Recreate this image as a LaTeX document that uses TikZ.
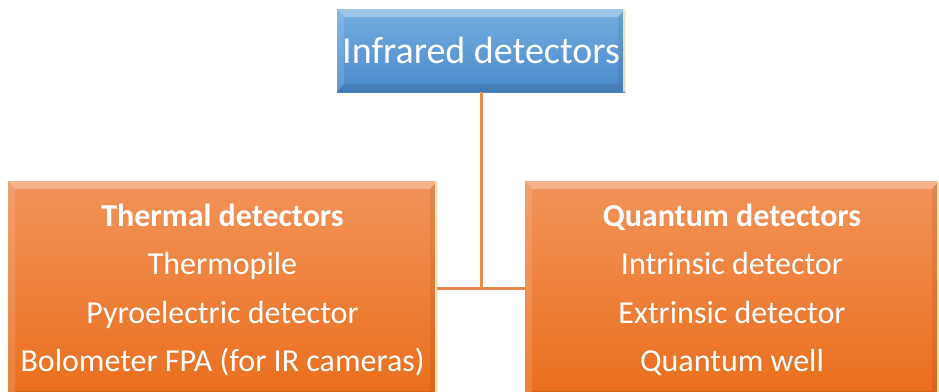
\documentclass[tikz,border=0pt]{standalone}
\usepackage{fontspec}
\setmainfont{Carlito}
\usetikzlibrary{calc}
\definecolor{bluetop}{HTML}{74AEE0}
\definecolor{bluebot}{HTML}{4A8ACB}
\definecolor{orgtop}{HTML}{F2935A}
\definecolor{orgbot}{HTML}{EA6E1C}
\definecolor{linkc}{HTML}{EE8A4E}
\tikzset{
  bevel/.style={path picture={
    \coordinate (bb1) at (path picture bounding box.north west);
    \coordinate (bb2) at (path picture bounding box.south east);
    % top highlight
    \fill[white,opacity=.30] (bb1) -- (bb1-|bb2) -- ([xshift=-7pt,yshift=-8pt]bb1-|bb2) -- ([xshift=7pt,yshift=-8pt]bb1) -- cycle;
    % left highlight
    \fill[white,opacity=.12] (bb1) -- ([xshift=7pt,yshift=-8pt]bb1) -- ([xshift=7pt,yshift=8pt]bb1|-bb2) -- (bb1|-bb2) -- cycle;
    % right shade
    \fill[black,opacity=.07] (bb1-|bb2) -- ([xshift=-7pt,yshift=-8pt]bb1-|bb2) -- ([xshift=-7pt,yshift=8pt]bb2) -- (bb2) -- cycle;
    \draw[white!80!yellow,line width=1.2pt,opacity=.8] ([xshift=-1pt]bb1-|bb2) -- ([xshift=-1pt]bb2);
    % bottom shade
    \fill[black,opacity=.10] (bb1|-bb2) -- ([xshift=7pt,yshift=8pt]bb1|-bb2) -- ([xshift=-7pt,yshift=8pt]bb2) -- (bb2) -- cycle;
  }},
  rootbox/.style={bevel, top color=bluetop, bottom color=bluebot, draw=none,
    text=white, font=\fontsize{38}{40}\selectfont, inner sep=0pt,
    minimum width=288pt, minimum height=83pt},
  groupbox/.style={bevel, top color=orgtop, bottom color=orgbot, draw=none,
    text=white, font=\fontsize{32}{48.3}\selectfont, align=center, inner sep=0pt,
    minimum height=218pt},
  link/.style={draw=linkc, line width=3pt}
}
\begin{document}
\begin{tikzpicture}[x=1pt,y=-1pt]
  \useasboundingbox (0,0) rectangle (939,391);
  \clip (0,0) rectangle (939,391);
  \coordinate (junction) at (481,288);
  % boxes (the orange ones run on past the lower edge)
  \node[rootbox] (root) at (481,50.5) {\raisebox{-2pt}{Infrared detectors}};
  \node[groupbox, minimum width=429pt] (thermal) at (222.5,290)
    {\textbf{Thermal detectors}\\Thermopile\\Pyroelectric detector\\Bolometer FPA (for IR cameras)};
  \node[groupbox, minimum width=414pt] (quantum) at (732,290)
    {\textbf{Quantum detectors}\\Intrinsic detector\\Extrinsic detector\\Quantum well};
  % connectors
  \draw[link] (root.south) -- (junction);
  \draw[link] (thermal.east|-junction) -- (quantum.west|-junction);
\end{tikzpicture}
\end{document}
